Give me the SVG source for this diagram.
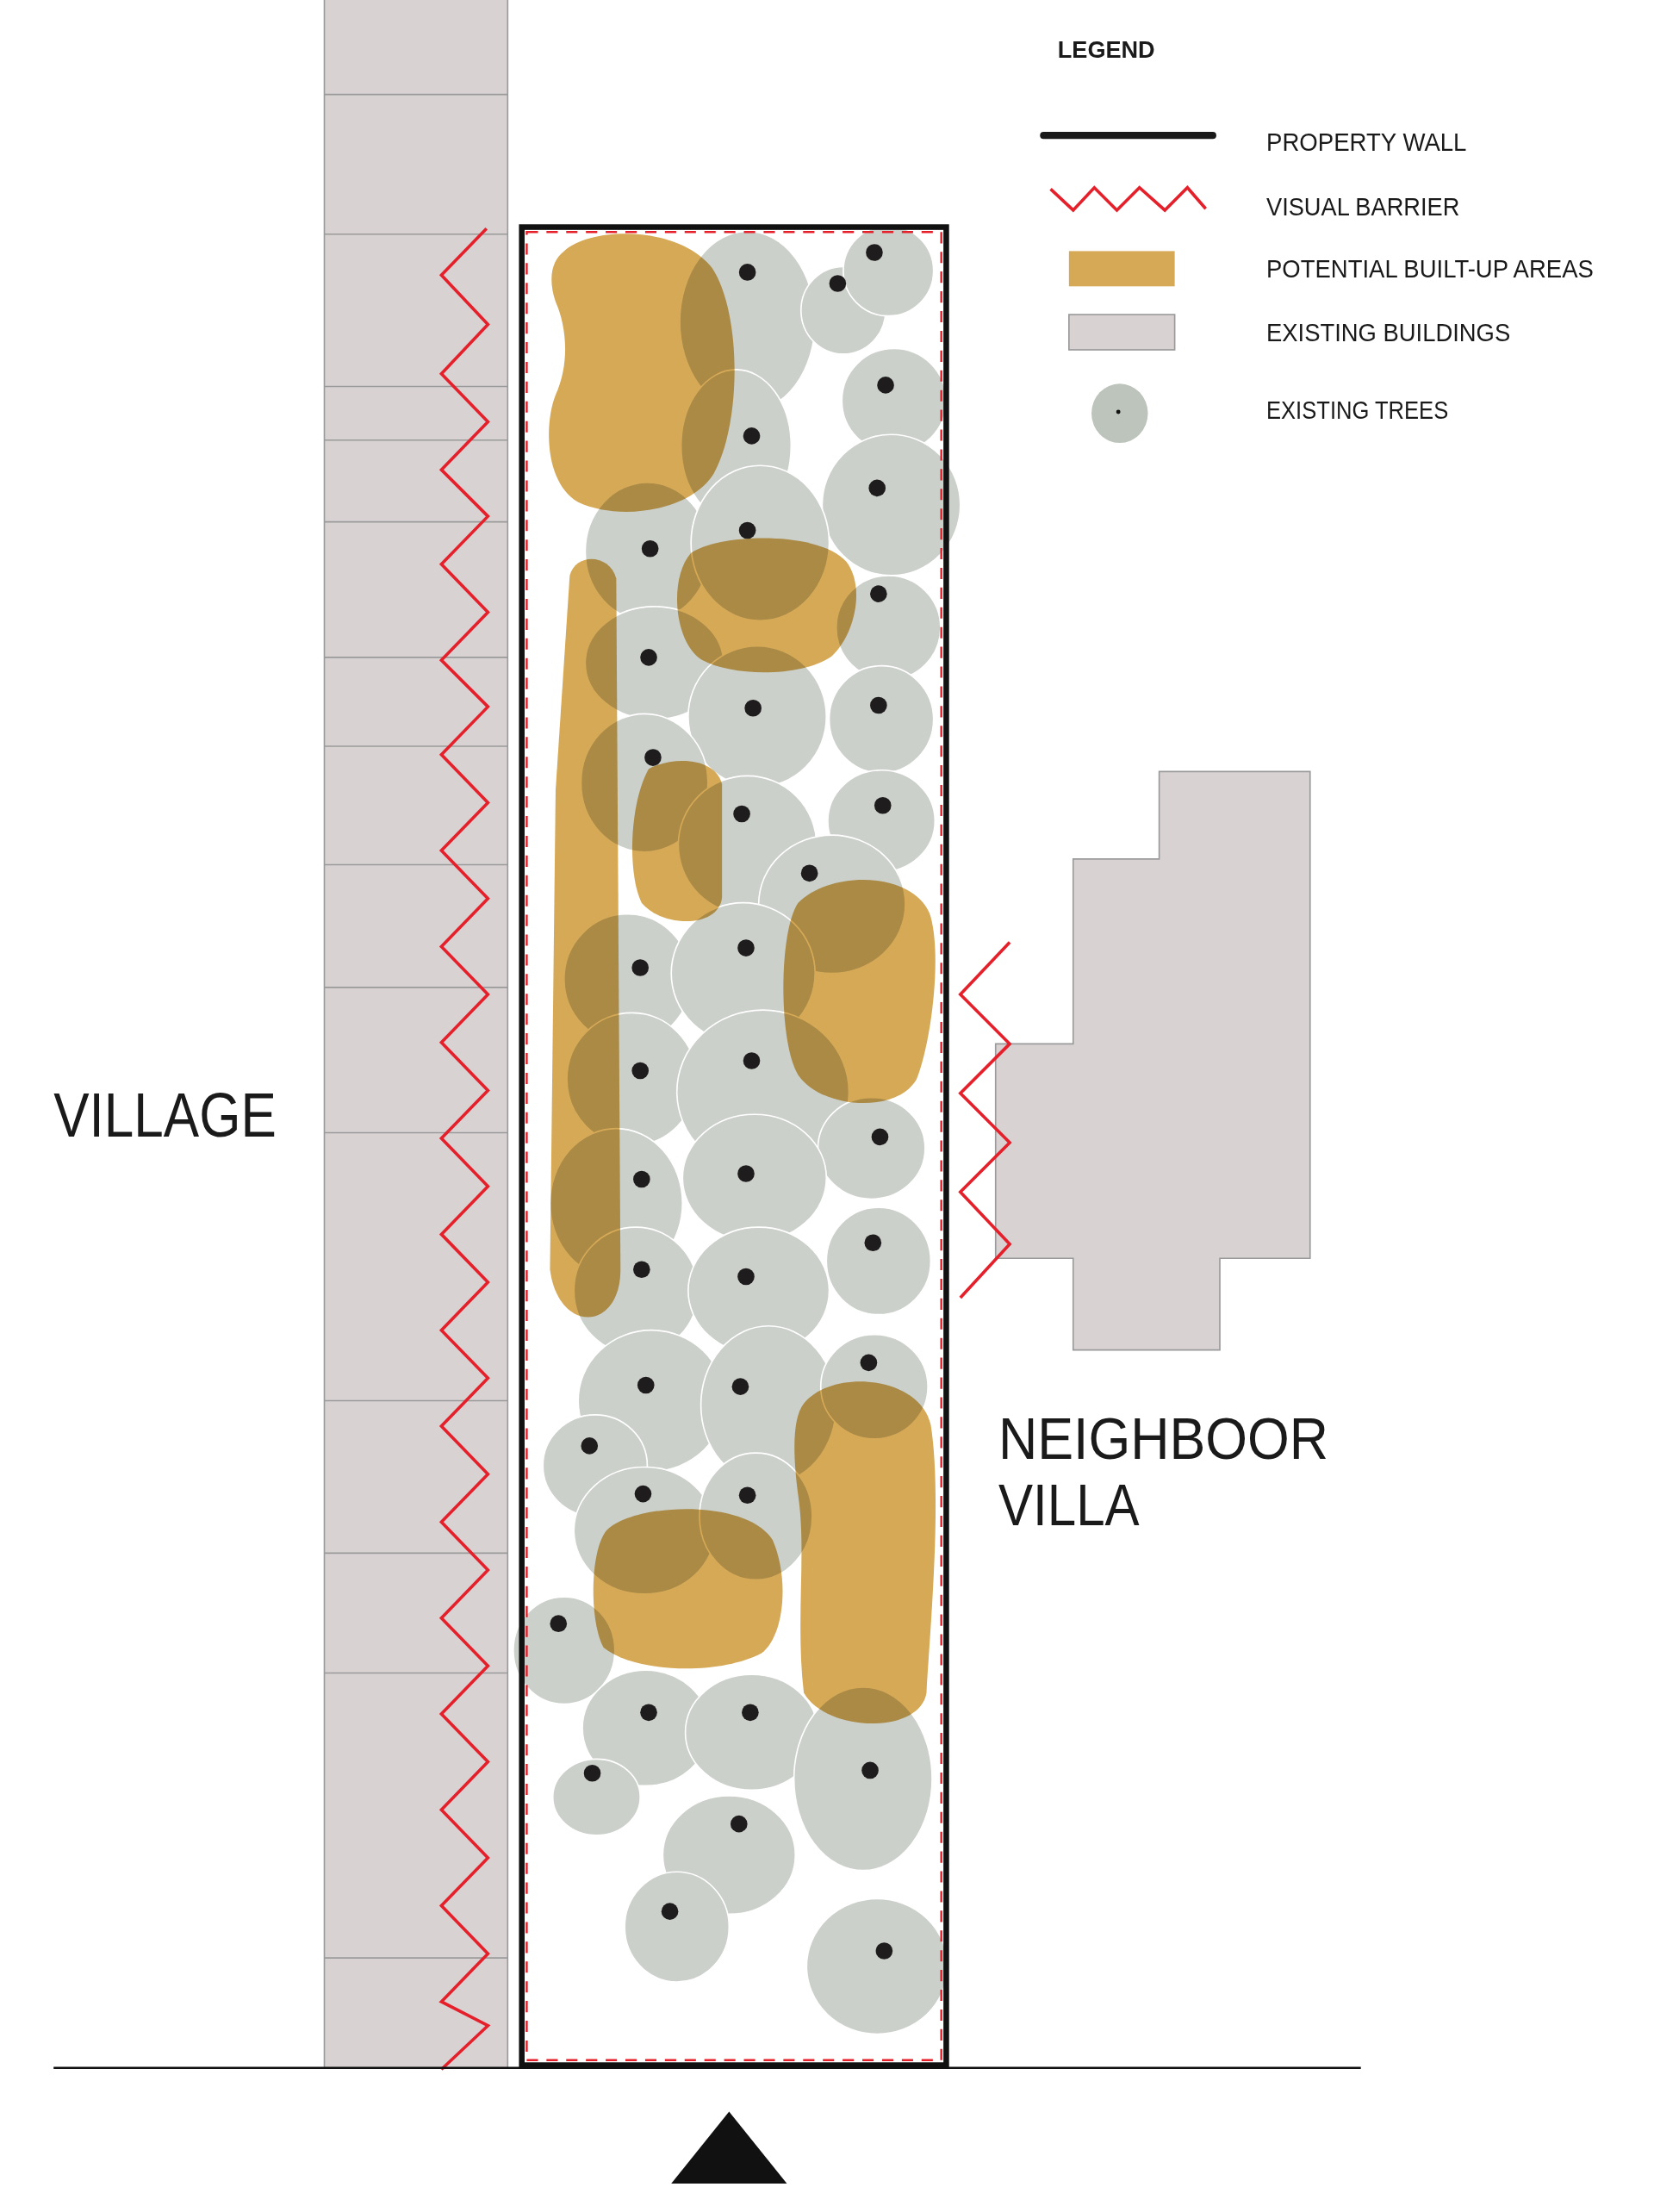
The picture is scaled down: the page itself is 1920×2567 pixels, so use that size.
<svg xmlns="http://www.w3.org/2000/svg" width="1920" height="2567" viewBox="0 0 1920 2567">
<style>
.bld{fill:#d9d2d3;stroke:#9a9a9a;stroke-width:1}
.sep{stroke:#9a9a9a;stroke-width:1}
.zig{fill:none;stroke:#e5202a;stroke-width:2.2;stroke-linejoin:miter}
.orng{fill:#d6a957}
.trees{mix-blend-mode:multiply}
.tree{fill:#cbd0cb;stroke:#ffffff;stroke-width:1}
.dot{fill:#1f1c1d}
.lbl{font-family:"Century Gothic","Liberation Sans",sans-serif;fill:#1a1a1a}
</style>
<rect width="1920" height="2567" fill="#ffffff"/>
<g transform="scale(1.637)">
<g id="village-buildings">
<rect class="bld" x="230" y="-2" width="130" height="1468"/>
<path class="sep" d="M230 67H360M230 166H360M230 274H360M230 312H360M230 370H360M230 466H360M230 529H360M230 613H360M230 700H360M230 803H360M230 993H360M230 1101H360M230 1186H360M230 1388H360"/>
</g>
<g id="neighbor-villa">
<path class="bld" d="M822 547H929V892H865V957H761V892H706V740H761V609H822Z"/>
</g>
<g id="built-up-areas">
<path class="orng" d="M400 178C420 160 482 160 505 190C526 222 526 300 506 336C490 362 440 370 410 356C386 342 386 300 394 280C404 258 402 232 394 214C388 196 392 184 400 178Z"/>
<path class="orng" d="M490 392C510 378 580 376 600 398C614 416 606 450 590 465C570 480 520 480 498 468C478 456 474 410 490 392Z"/>
<path class="orng" d="M404 408C408 392 432 392 437 410L440 900C440 944 396 946 390 900L394 560Z"/>
<path class="orng" d="M460 545C480 535 508 538 512 556L512 636C510 658 470 658 455 640C445 620 446 570 460 545Z"/>
<path class="orng" d="M566 640C590 616 650 618 660 650C668 680 660 740 650 765C636 790 582 786 566 762C552 740 552 660 566 640Z"/>
<path class="orng" d="M570 995C590 970 652 975 660 1010C668 1060 660 1150 657 1200C652 1230 586 1228 570 1200C564 1150 572 1100 566 1060C562 1030 562 1005 570 995Z"/>
<path class="orng" d="M430 1085C450 1065 530 1062 548 1092C560 1120 556 1160 540 1172C510 1188 450 1186 428 1168C418 1150 418 1100 430 1085Z"/>
</g>
<g id="trees" class="trees">
<ellipse class="tree" cx="530" cy="228" rx="48" ry="64"/>
<ellipse class="tree" cx="598" cy="220" rx="30" ry="31"/>
<ellipse class="tree" cx="630" cy="192" rx="32" ry="32"/>
<ellipse class="tree" cx="634" cy="284" rx="37" ry="37"/>
<ellipse class="tree" cx="522" cy="316" rx="39" ry="54"/>
<ellipse class="tree" cx="632" cy="358" rx="49" ry="50"/>
<ellipse class="tree" cx="459" cy="391" rx="44" ry="49"/>
<ellipse class="tree" cx="539" cy="385" rx="49" ry="55"/>
<ellipse class="tree" cx="630" cy="445" rx="37" ry="37"/>
<ellipse class="tree" cx="464" cy="470" rx="49" ry="40"/>
<ellipse class="tree" cx="537" cy="508" rx="49" ry="50"/>
<ellipse class="tree" cx="625" cy="510" rx="37" ry="38"/>
<ellipse class="tree" cx="457" cy="555" rx="45" ry="49"/>
<ellipse class="tree" cx="530" cy="599" rx="49" ry="49"/>
<ellipse class="tree" cx="625" cy="582" rx="38" ry="36"/>
<ellipse class="tree" cx="590" cy="641" rx="52" ry="49"/>
<ellipse class="tree" cx="445" cy="694" rx="45" ry="46"/>
<ellipse class="tree" cx="527" cy="690" rx="51" ry="50"/>
<ellipse class="tree" cx="448" cy="765" rx="46" ry="47"/>
<ellipse class="tree" cx="541" cy="774" rx="61" ry="58"/>
<ellipse class="tree" cx="618" cy="814" rx="38" ry="36"/>
<ellipse class="tree" cx="437" cy="853" rx="47" ry="53"/>
<ellipse class="tree" cx="535" cy="835" rx="51" ry="45"/>
<ellipse class="tree" cx="623" cy="894" rx="37" ry="38"/>
<ellipse class="tree" cx="451" cy="915" rx="44" ry="45"/>
<ellipse class="tree" cx="538" cy="915" rx="50" ry="45"/>
<ellipse class="tree" cx="462" cy="993" rx="52" ry="50"/>
<ellipse class="tree" cx="545" cy="996" rx="48" ry="56"/>
<ellipse class="tree" cx="620" cy="983" rx="38" ry="37"/>
<ellipse class="tree" cx="422" cy="1039" rx="37" ry="36"/>
<ellipse class="tree" cx="457" cy="1085" rx="50" ry="45"/>
<ellipse class="tree" cx="536" cy="1075" rx="40" ry="45"/>
<ellipse class="tree" cx="400" cy="1170" rx="36" ry="38"/>
<ellipse class="tree" cx="458" cy="1225" rx="45" ry="41"/>
<ellipse class="tree" cx="533" cy="1228" rx="47" ry="41"/>
<ellipse class="tree" cx="612" cy="1261" rx="49" ry="65"/>
<ellipse class="tree" cx="423" cy="1274" rx="31" ry="27"/>
<ellipse class="tree" cx="517" cy="1315" rx="47" ry="42"/>
<ellipse class="tree" cx="480" cy="1366" rx="37" ry="39"/>
<ellipse class="tree" cx="622" cy="1394" rx="50" ry="48"/>
</g>
<g id="tree-trunks">
<circle class="dot" cx="530" cy="193" r="6"/><circle class="dot" cx="594" cy="201" r="6"/><circle class="dot" cx="620" cy="179" r="6"/><circle class="dot" cx="628" cy="273" r="6"/><circle class="dot" cx="533" cy="309" r="6"/><circle class="dot" cx="622" cy="346" r="6"/><circle class="dot" cx="461" cy="389" r="6"/><circle class="dot" cx="530" cy="376" r="6"/><circle class="dot" cx="623" cy="421" r="6"/><circle class="dot" cx="460" cy="466" r="6"/><circle class="dot" cx="534" cy="502" r="6"/><circle class="dot" cx="623" cy="500" r="6"/><circle class="dot" cx="463" cy="537" r="6"/><circle class="dot" cx="526" cy="577" r="6"/><circle class="dot" cx="626" cy="571" r="6"/><circle class="dot" cx="574" cy="619" r="6"/><circle class="dot" cx="454" cy="686" r="6"/><circle class="dot" cx="529" cy="672" r="6"/><circle class="dot" cx="454" cy="759" r="6"/><circle class="dot" cx="533" cy="752" r="6"/><circle class="dot" cx="624" cy="806" r="6"/><circle class="dot" cx="455" cy="836" r="6"/><circle class="dot" cx="529" cy="832" r="6"/><circle class="dot" cx="619" cy="881" r="6"/><circle class="dot" cx="455" cy="900" r="6"/><circle class="dot" cx="529" cy="905" r="6"/><circle class="dot" cx="458" cy="982" r="6"/><circle class="dot" cx="525" cy="983" r="6"/><circle class="dot" cx="616" cy="966" r="6"/><circle class="dot" cx="418" cy="1025" r="6"/><circle class="dot" cx="456" cy="1059" r="6"/><circle class="dot" cx="530" cy="1060" r="6"/><circle class="dot" cx="396" cy="1151" r="6"/><circle class="dot" cx="460" cy="1214" r="6"/><circle class="dot" cx="532" cy="1214" r="6"/><circle class="dot" cx="617" cy="1255" r="6"/><circle class="dot" cx="420" cy="1257" r="6"/><circle class="dot" cx="524" cy="1293" r="6"/><circle class="dot" cx="475" cy="1355" r="6"/><circle class="dot" cx="627" cy="1383" r="6"/>
</g>
<g id="property">
<rect x="370" y="161" width="301" height="1303" fill="none" stroke="#111" stroke-width="4"/>
<rect x="373.5" y="164.5" width="294" height="1296" fill="none" stroke="#e5202a" stroke-width="1.5" stroke-dasharray="8 6"/>
</g>
<g id="visual-barriers">
<path class="zig" d="M345 162L313 195L346 230L313 265L346 299L313 333L346 366L313 400L346 434L313 468L346 501L313 535L346 569L313 603L346 637L313 671L346 705L313 739L346 773L313 807L346 841L313 875L346 909L313 943L346 977L313 1011L346 1045L313 1079L346 1113L313 1147L346 1181L313 1215L346 1249L313 1283L346 1317L313 1351L346 1385L313 1419L346 1436L313 1467"/>
<path class="zig" d="M716 668L681 705L716 740L681 775L716 810L681 845L716 882L681 920"/>
</g>
<g id="ground">
<line x1="38" y1="1466" x2="965" y2="1466" stroke="#111" stroke-width="1.5"/>
<polygon points="517,1497 476,1548 558,1548" fill="#111"/>
</g>
<g id="labels">
<text class="lbl" x="38" y="806" font-size="44" textLength="158" lengthAdjust="spacingAndGlyphs">VILLAGE</text>
<text class="lbl" x="708" y="1034" font-size="42" textLength="234" lengthAdjust="spacingAndGlyphs">NEIGHBOOR</text>
<text class="lbl" x="708" y="1081" font-size="42" textLength="100" lengthAdjust="spacingAndGlyphs">VILLA</text>
</g>
<g id="legend">
<text class="lbl" x="750" y="41" font-size="17" font-weight="bold" textLength="69" lengthAdjust="spacingAndGlyphs">LEGEND</text>
<line x1="740" y1="96" x2="860" y2="96" stroke="#1a1a1a" stroke-width="5" stroke-linecap="round"/>
<polyline class="zig" points="745,134 761,149 776,133 792,149 808,133 826,149 842,133 855,148"/>
<rect x="758" y="178" width="75" height="25" fill="#d6a957"/>
<rect x="758" y="223" width="75" height="25" class="bld"/>
<ellipse cx="794" cy="293" rx="20" ry="21" fill="#bcc4bc"/>
<circle cx="793" cy="292" r="1.5" fill="#111"/>
<text class="lbl" x="898" y="107" font-size="18" textLength="142" lengthAdjust="spacingAndGlyphs">PROPERTY WALL</text>
<text class="lbl" x="898" y="153" font-size="18" textLength="137" lengthAdjust="spacingAndGlyphs">VISUAL BARRIER</text>
<text class="lbl" x="898" y="197" font-size="18" textLength="232" lengthAdjust="spacingAndGlyphs">POTENTIAL BUILT-UP AREAS</text>
<text class="lbl" x="898" y="242" font-size="18" textLength="173" lengthAdjust="spacingAndGlyphs">EXISTING BUILDINGS</text>
<text class="lbl" x="898" y="297" font-size="18" textLength="129" lengthAdjust="spacingAndGlyphs">EXISTING TREES</text>
</g>
</g>
</svg>
